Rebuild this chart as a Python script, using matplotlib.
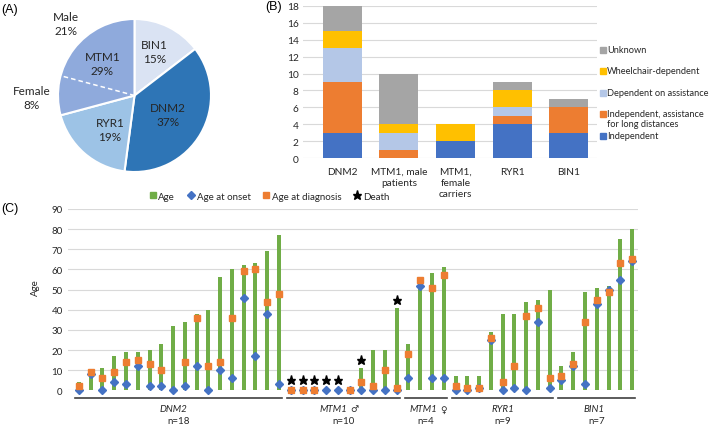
import numpy as np
import matplotlib.pyplot as plt
from matplotlib.lines import Line2D
from matplotlib.patches import Rectangle

plt.rcParams['font.family'] = ['Lato', 'DejaVu Sans']

# (A) gene share
pie_labels = ['BIN1', 'DNM2', 'RYR1', 'MTM1']
pie_counts = [7, 18, 9, 14]
pie_pct = [15, 37, 19, 29]
mtm1_female, mtm1_male = 4, 10
female_pct, male_pct = 8, 21
pie_colors = ['#DAE3F3', '#2E75B6', '#9DC3E6', '#8FAADC']

# (B) ambulation status
genes_b = ['DNM2', 'MTM1, male\npatients', 'MTM1,\nfemale\ncarriers', 'RYR1', 'BIN1']
status = ['Independent', 'Independent, assistance\nfor long distances',
          'Dependent on assistance', 'Wheelchair-dependent', 'Unknown']
indep = [3, 0, 2, 4, 3]
indep_assist = [6, 1, 0, 1, 3]
dependent = [4, 2, 0, 1, 0]
wheelchair = [2, 1, 2, 2, 0]
unknown = [3, 6, 0, 1, 1]
status_colors = ['#4472C4', '#ED7D31', '#B4C7E7', '#FFC000', '#A5A5A5']

# (C) ages per patient
groups = ['DNM2', 'MTM1', 'MTM1', 'RYR1', 'BIN1']
group_sym = ['', '\u2642', '\u2640', '', '']
group_n = [18, 10, 4, 9, 7]
nan = np.nan
age = [4, 10, 11, 17, 19, 19, 20, 23, 32, 34, 38, 40, 56, 60, 62, 63, 69, 77,
       0, 0, 0, 0, 0, 1, 11, 20, 20, 41,
       23, 56, 58, 61,
       7, 7, 7, 29, 38, 38, 44, 45, 50,
       12, 19, 49, 51, 52, 75, 80]
onset = [0, 8, 0, 4, 3, 12, 2, 2, 0, 2, 12, 0, 10, 6, 46, 17, 38, 3,
         0, 0, 0, 0, 0, 0, 0, 0, 0, 0,
         6, 52, 6, 6,
         0, 0, 1, 25, 0, 1, 0, 34, 1,
         5, 12, 3, 43, 50, 55, 64]
diagnosis = [2, 9, 6, 9, 14, 15, 13, 10, nan, 14, 36, 12, 14, 36, 59, 60, 44, 48,
             0, 0, 0, nan, nan, 0, 4, 2, 10, 1,
             18, 55, 51, 57,
             2, 1, 1, 26, 4, 12, 37, 41, 6,
             7, 13, 34, 45, 49, 63, 65]
death = [nan] * 18 + [5, 5, 5, 5, 5, nan, 15, nan, nan, 45] + [nan] * 20

W, H = 709, 427
def box(x0, y0, x1, y1):
    return [x0 / W, 1 - y1 / H, (x1 - x0) / W, (y1 - y0) / H]

fig = plt.figure(figsize=(W / 100, H / 100), dpi=100)
txt = '#262626'

# ---- (A)
ax_a = fig.add_axes(box(58, 20, 211, 173))
wedges, _ = ax_a.pie(pie_counts, colors=pie_colors, startangle=90, counterclock=False,
                     wedgeprops=dict(edgecolor='white', linewidth=1.5))
ax_a.set_xlim(-1, 1)
ax_a.set_ylim(-1, 1)
total = sum(pie_counts)
w_m = wedges[3]
b = np.deg2rad(w_m.theta2 - 360 * mtm1_female / total)
ax_a.plot([0, np.cos(b)], [0, np.sin(b)], color='white', lw=1.1, ls=(0, (3, 2)))
pos = [(0.26, 0.58), (0.44, -0.25), (-0.32, -0.44), (-0.42, 0.42)]
for lab, p, (x, y) in zip(pie_labels, pie_pct, pos):
    ax_a.text(x, y, f'{lab}\n{p}%', ha='center', va='center', fontsize=8.5,
              color=txt, linespacing=1.35)
ax_a.text(-0.89, 0.94, f'Male\n{male_pct}%', ha='center', va='center',
          fontsize=8.5, color=txt, linespacing=1.35)
ax_a.text(-1.34, -0.03, f'Female\n{female_pct}%', ha='center',
          va='center', fontsize=8.5, color=txt, linespacing=1.35)
fig.text(1 / W, 1 - 10 / H, '(A)', fontsize=9, va='center', family='Liberation Sans')

# ---- (B)
ax_b = fig.add_axes(box(303, 6.7, 596.7, 159.3))
xb = np.arange(len(genes_b))
bottom = np.zeros(len(genes_b))
for vals, c in zip([indep, indep_assist, dependent, wheelchair, unknown], status_colors):
    ax_b.bar(xb, vals, 0.69, bottom=bottom, color=c, zorder=2)
    bottom += np.array(vals)
ax_b.set_xlim(-0.69, 4.49)
ax_b.set_ylim(0, 18)
ax_b.set_yticks(range(0, 19, 2))
ax_b.set_xticks(xb)
ax_b.set_xticklabels(genes_b, linespacing=1.3)
ax_b.grid(axis='y', color='#D9D9D9', lw=0.8)
ax_b.set_axisbelow(True)
for s in ax_b.spines.values():
    s.set_visible(False)
ax_b.tick_params(length=0, labelsize=7.3, labelcolor=txt)
ax_b.tick_params(axis='x', pad=6)
ax_b.tick_params(axis='y', pad=3)
fig.text(265 / W, 1 - 7 / H, '(B)', fontsize=9, va='center', family='Liberation Sans')

leg_y = [137, 115, 94, 72, 51]
for lab, c, y in zip(status, status_colors, leg_y):
    fig.add_artist(Rectangle((600 / W, 1 - (y + 3) / H), 6 / W, 6 / H,
                             transform=fig.transFigure, color=c))
    fig.text(607 / W, 1 - (y - 5) / H, lab, fontsize=6.7, color=txt, va='top',
             linespacing=1.15)

# ---- (C)
ax_c = fig.add_axes(box(68.3, 210, 638, 391.3))
xc = np.arange(len(age))
ax_c.bar(xc, age, 0.34, color='#70AD47', zorder=2)
ax_c.plot(xc, onset, 'D', ms=4, color='#4472C4', ls='none', clip_on=False, zorder=3)
ax_c.plot(xc, diagnosis, 's', ms=4.3, color='#ED7D31', ls='none', clip_on=False, zorder=4)
ax_c.plot(xc, death, '*', ms=6.5, color='black', ls='none', clip_on=False, zorder=4)
ax_c.set_xlim(-0.9, 47.5)
ax_c.set_ylim(0, 90)
ax_c.set_yticks(range(0, 91, 10))
ax_c.set_xticks([])
ax_c.grid(axis='y', color='#D9D9D9', lw=0.8)
ax_c.set_axisbelow(True)
for s in ax_c.spines.values():
    s.set_visible(False)
ax_c.tick_params(length=0, labelsize=7, labelcolor=txt, pad=4)
ax_c.set_ylabel('Age', fontsize=7, color=txt)
ax_c.yaxis.set_label_coords(-0.05, 0.57)

# label offsets (in bar units) for the italic gene name and the sex sign
name_shift = [-0.5, -0.75, -0.1, 0, -0.2]
sym_shift = [0, 0.55, 1.2, 0, 0]
tr = ax_c.get_xaxis_transform()
start = 0
for g, sym, n, dx, sx in zip(groups, group_sym, group_n, name_shift, sym_shift):
    end = start + n - 1
    ax_c.plot([start - 0.3, end + 0.25], [-0.043, -0.043], transform=tr, clip_on=False,
              color='#404040', lw=1.2)
    mid = (start + end) / 2
    if sym:
        ax_c.text(mid + sx - 0.25, -0.103, g, transform=tr, ha='right', va='center',
                  fontsize=7, style='italic', color=txt)
        ax_c.text(mid + sx, -0.103, sym, transform=tr, ha='left', va='center',
                  fontsize=6.5, color=txt)
    else:
        ax_c.text(mid + dx, -0.103, g, transform=tr, ha='center', va='center', fontsize=7,
                  style='italic', color=txt)
    ax_c.text(mid, -0.165, f'n={n}', transform=tr, ha='center', va='center', fontsize=7,
              color=txt)
    start += n

handles = [Line2D([], [], marker='s', ls='none', color='#70AD47', ms=4),
           Line2D([], [], marker='D', ls='none', color='#4472C4', ms=4),
           Line2D([], [], marker='s', ls='none', color='#ED7D31', ms=4),
           Line2D([], [], marker='*', ls='none', color='black', ms=6.5)]
fig.legend(handles, ['Age', 'Age at onset', 'Age at diagnosis', 'Death'], ncol=4,
           loc='center', bbox_to_anchor=(269 / W, 1 - 197 / H), frameon=False,
           fontsize=7, handlelength=0.8, handletextpad=0.2, columnspacing=1.2,
           labelcolor=txt)
fig.text(1 / W, 1 - 209 / H, '(C)', fontsize=9, va='center', family='Liberation Sans')

fig.savefig('out.png', dpi=100)
